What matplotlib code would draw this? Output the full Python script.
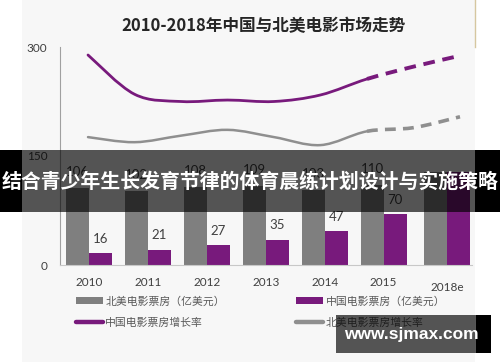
import matplotlib

matplotlib.use("Agg")
import matplotlib.pyplot as plt
import matplotlib.transforms as mtransforms
import numpy as np
from matplotlib.lines import Line2D
from matplotlib.patches import PathPatch, Rectangle
from matplotlib.path import Path

plt.rcParams["font.family"] = ["Noto Sans CJK SC", "DejaVu Sans"]

# bars (亿美元)
categories = ["2010", "2011", "2012", "2013", "2014", "2015", "2018e"]
na_box = [106, 102, 108, 109, 103, 110, 128]
cn_box = [16, 21, 27, 35, 47, 70, 128]
na_labels = ["106", "102", "108", "109", "103", "110", ""]
cn_labels = ["16", "21", "27", "35", "47", "70", ""]

rate_years = [2010, 2011, 2012, 2013, 2014, 2015, 2016, 2017, 2018]
cn_rate = [289, 235, 225, 227, 225, 234, 256, 273, 288]
na_rate = [176, 169, 178, 186, 176, 165, 184, 189, 204]
last_actual_year = 2016

title = "2010-2018年中国与北美电影市场走势"
banner = "结合青少年生长发育节律的体育晨练计划设计与实施策略"
watermark = "www.sjmax.com"

GRAY = "#7f7f7f"
PURPLE = "#781a7c"
LINE_GRAY = "#8f8f8f"
TEXT = "#595959"

W, H = 500, 362


def fx(px):
    return px / W


def fy(py):
    return 1 - py / H


def smooth_segments(xs, ys):
    # Catmull-Rom through the points, returned as one bezier per segment
    pts = np.column_stack([xs, ys]).astype(float)
    ext = np.vstack([pts[0], pts, pts[-1]])
    segs = []
    for i in range(len(pts) - 1):
        p0, p1, p2, p3 = ext[i], ext[i + 1], ext[i + 2], ext[i + 3]
        c1 = p1 + (p2 - p0) / 6
        c2 = p2 - (p3 - p1) / 6
        segs.append((p1, c1, c2, p2))
    return segs


def bezier_path(segs):
    verts = [segs[0][0]]
    codes = [Path.MOVETO]
    for _, c1, c2, p2 in segs:
        verts += [c1, c2, p2]
        codes += [Path.CURVE4] * 3
    return Path(verts, codes)


fig = plt.figure(figsize=(W / 100, H / 100), dpi=100)
fig.patch.set_facecolor("white")

# chart panel background
fig.add_artist(Rectangle((fx(22), 0), fx(475 - 22), 1, transform=fig.transFigure,
                         facecolor="#f7f7f7", edgecolor="none", zorder=-10))
fig.add_artist(Line2D([fx(475), fx(475)], [fy(47), 1], transform=fig.transFigure,
                      color="#d6c7a0", lw=1, zorder=-5))

ax_pos = [fx(60), fy(265), fx(472 - 60), (265 - 47) / H]
ax = fig.add_axes(ax_pos)
ax.patch.set_visible(False)

x = np.arange(len(categories), dtype=float)
x[-1] = 6.08
bw = 0.39
b1 = ax.bar(x - bw / 2, na_box, bw, color=GRAY, label="北美电影票房（亿美元）", zorder=2)
b2 = ax.bar(x + bw / 2, cn_box, bw, color=PURPLE, label="中国电影票房（亿美元）", zorder=2)
ax.bar_label(b1, labels=na_labels, padding=7, fontsize=9.5, color="#404040", family="Lato")
ax.bar_label(b2, labels=cn_labels, padding=6, fontsize=9.5, color="#404040", family="Lato")

ax.set_xlim(-0.49, 6.5)
ax.set_ylim(0, 300)
ax.set_yticks([0, 150, 300])
ax.set_xticks(x)
ax.set_xticklabels(categories)
ax.tick_params(axis="both", length=0, labelsize=8.5, labelcolor="#404040")
ax.tick_params(axis="x", pad=9)
ax.tick_params(axis="y", pad=9)
for lab in ax.get_xticklabels() + ax.get_yticklabels():
    lab.set_family("Lato")
last = ax.get_xticklabels()[-1]
last.set_transform(last.get_transform() + mtransforms.ScaledTranslation(0, -3 / 72, fig.dpi_scale_trans))
for side in ("top", "right"):
    ax.spines[side].set_visible(False)
ax.spines["left"].set_color("#a0a0a0")
ax.spines["left"].set_linewidth(0.8)
ax.spines["bottom"].set_color("#c8c8c8")
ax.spines["bottom"].set_linewidth(0.8)

# growth-rate lines on a hidden axis
ax2 = fig.add_axes(ax_pos)
ax2.patch.set_visible(False)
ax2.axis("off")
ax2.set_xlim(2010 - 28 / 46.5, 2018 + 12 / 46.5)
ax2.set_ylim(0, 300)
n_solid = rate_years.index(last_actual_year)
for vals, color, lw in ((na_rate, LINE_GRAY, 1.8), (cn_rate, PURPLE, 2.0)):
    segs = smooth_segments(rate_years, vals)
    ax2.add_patch(PathPatch(bezier_path(segs[:n_solid]), fill=False, edgecolor=color,
                            lw=lw, capstyle="round", zorder=3))
    ax2.add_patch(PathPatch(bezier_path(segs[n_solid:]), fill=False, edgecolor=color,
                            lw=lw + 0.8, linestyle=(0, (3.0, 2.0)), zorder=3))

fig.text(fx(264), fy(26), title, ha="center", va="center", fontsize=12,
         fontweight="bold", color="#262626")

handles = [
    b1,
    Line2D([], [], color=PURPLE, lw=3.2, solid_capstyle="round"),
    b2,
    Line2D([], [], color=LINE_GRAY, lw=3.2, solid_capstyle="round"),
]
labels = ["北美电影票房（亿美元）", "中国电影票房增长率", "中国电影票房（亿美元）", "北美电影票房增长率"]
leg = fig.legend(handles, labels, ncol=2, loc="upper left", bbox_to_anchor=(fx(76), fy(296)),
                 frameon=False, fontsize=7.8, handlelength=2.5, handleheight=0.7,
                 handletextpad=0.2, columnspacing=6.6, labelspacing=1.0,
                 borderpad=0, borderaxespad=0)
for t in leg.get_texts():
    t.set_color(TEXT)

# overlay banner
fig.add_artist(Rectangle((0, fy(212)), fx(22), (212 - 150) / H, transform=fig.transFigure,
                         facecolor="black", edgecolor="none", zorder=10))
fig.add_artist(Rectangle((fx(475), fy(212)), fx(25), (212 - 150) / H, transform=fig.transFigure,
                         facecolor="black", edgecolor="none", zorder=10))
fig.add_artist(Rectangle((fx(22), fy(212)), fx(453), (212 - 150) / H, transform=fig.transFigure,
                         facecolor="black", alpha=0.66, edgecolor="none", zorder=10))
fig.text(0.5, fy(181), banner, ha="center", va="center", fontsize=14.3,
         fontweight="bold", color="white", zorder=11)

# watermark box
fig.add_artist(Rectangle((fx(336), fy(353)), fx(476 - 336), (353 - 315) / H,
                         transform=fig.transFigure, facecolor="black", alpha=0.66,
                         edgecolor="none", zorder=10))
fig.add_artist(Rectangle((fx(476), fy(353)), fx(15), (353 - 315) / H,
                         transform=fig.transFigure, facecolor="black",
                         edgecolor="none", zorder=10))
fig.text(fx(411), fy(334), watermark, ha="center", va="center", fontsize=12.5,
         fontweight="bold", color="white", family="Liberation Sans", zorder=11)

fig.savefig("out.png", dpi=100)
